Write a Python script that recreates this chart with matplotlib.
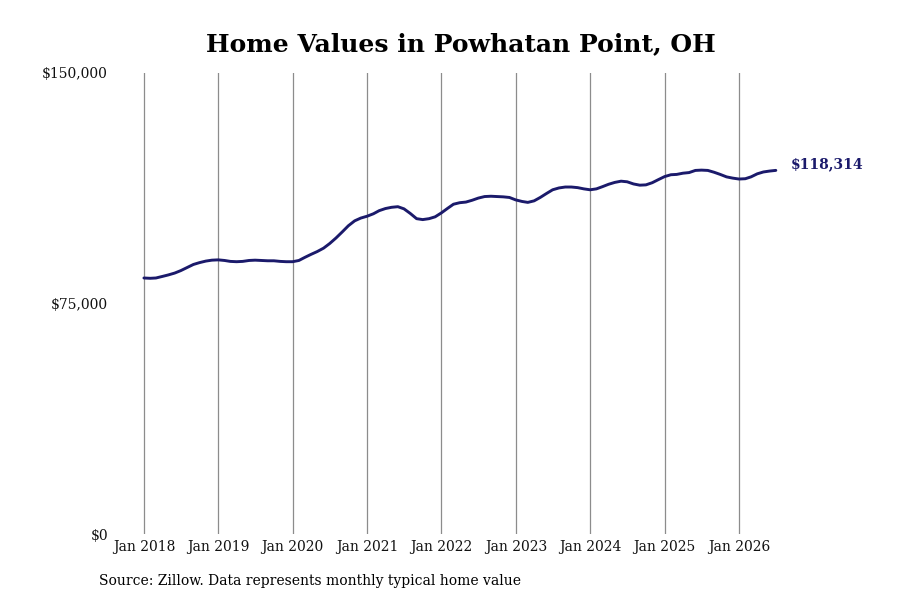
import matplotlib.pyplot as plt
import matplotlib.dates as mdates
import numpy as np
import pandas as pd

plt.rcParams["font.family"] = "serif"
plt.rcParams["font.serif"] = ["DejaVu Serif"]
SERIF = "DejaVu Serif"

# monthly typical home value, Jan 2018 .. Jul 2026
v2018 = [83300, 83200, 83300, 83800, 84300, 84900, 85700, 86700, 87700, 88300, 88800, 89100]
v2019 = [89200, 89000, 88700, 88600, 88700, 89000, 89100, 89000, 88900, 88900, 88700, 88600]
v2020 = [88600, 89000, 90000, 91000, 91900, 93000, 94500, 96300, 98300, 100300, 101900, 102800]
v2021 = [103400, 104200, 105200, 105900, 106300, 106500, 105800, 104300, 102600, 102300, 102600, 103200]
v2022 = [104500, 106000, 107300, 107800, 108000, 108600, 109300, 109800, 109900, 109800, 109700, 109500]
v2023 = [108700, 108200, 107900, 108400, 109500, 110800, 112000, 112600, 112900, 112900, 112700, 112300]
v2024 = [112000, 112300, 113000, 113800, 114400, 114800, 114600, 113900, 113500, 113600, 114300, 115300]
v2025 = [116300, 116900, 117000, 117400, 117600, 118300, 118400, 118300, 117700, 117000, 116200, 115800]
v2026 = [115500, 115600, 116200, 117200, 117800, 118100, 118314]

values = v2018 + v2019 + v2020 + v2021 + v2022 + v2023 + v2024 + v2025 + v2026
dates = pd.date_range("2018-01-01", periods=len(values), freq="MS")
tick_years = list(range(2018, 2027))
y_ticks = [0, 75000, 150000]
y_labels = ["$0", "$75,000", "$150,000"]

navy = "#1b1a6b"

fig = plt.figure(figsize=(9, 6), dpi=100)
ax = fig.add_axes([115/900, 1-534/600, (785-115)/900, (534-73)/600])

ax.plot(dates, values, color=navy, lw=2.1, solid_capstyle="round")

ax.set_ylim(0, 150000)
ax.set_xlim(pd.Timestamp("2017-08-12"), pd.Timestamp("2026-08-15"))

ax.set_xticks([pd.Timestamp(f"{y}-01-01") for y in tick_years])
ax.xaxis.set_major_formatter(mdates.DateFormatter("Jan %Y"))
ax.set_yticks(y_ticks)
ax.set_yticklabels(y_labels)
ax.tick_params(length=0, labelsize=10, colors="#111111")
ax.tick_params(axis="y", pad=5)
ax.tick_params(axis="x", pad=4)
for lab in ax.get_xticklabels() + ax.get_yticklabels():
    lab.set_fontfamily(SERIF)
ax.grid(axis="x", color="#8c8c8c", lw=0.9)
ax.set_axisbelow(True)
for s in ax.spines.values():
    s.set_visible(False)

ax.annotate(f"${values[-1]:,}", xy=(dates[-1], values[-1]), xytext=(11, 4.5),
            textcoords="offset points", va="center", ha="left", family=SERIF,
            fontsize=10, fontweight="bold", color=navy)

fig.text(461/900, 1-44/600, "Home Values in Powhatan Point, OH", ha="center", va="center",
         fontsize=18, fontweight="bold", family=SERIF)
fig.text(99/900, 1-581/600, "Source: Zillow. Data represents monthly typical home value",
         ha="left", va="center", fontsize=10, family=SERIF)

fig.savefig("out.png", dpi=100)
